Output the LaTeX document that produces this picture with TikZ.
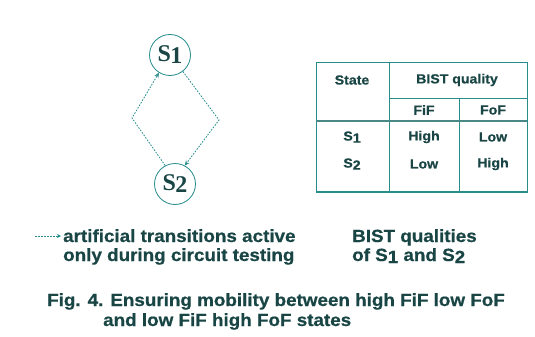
\documentclass[tikz,border=0pt]{standalone}
\usepackage{fontspec}
\setmainfont[FakeStretch=1.07,FakeBold=0.6]{Liberation Sans}
\newfontfamily\serifbold{Liberation Serif}
\usetikzlibrary{arrows.meta}
\definecolor{txt}{rgb}{0.10,0.27,0.27}
\definecolor{ln}{rgb}{0.15,0.55,0.55}
\begin{document}
\begin{tikzpicture}[x=1pt,y=-1pt,
  state/.style={circle,draw=ln,line width=0.8pt,minimum size=41pt,inner sep=0pt,text=txt,font=\serifbold\bfseries\fontsize{24}{24}\selectfont},
  trans/.style={draw=ln,dash pattern=on 1.6pt off 1.4pt,line width=0.8pt,-{Stealth[length=5pt,width=4.5pt]}},
  lbl/.style={anchor=base west,inner sep=0pt,text=txt,font=\bfseries\fontsize{17.6}{17.6}\selectfont},
  cell/.style={inner sep=0pt,text=txt,font=\bfseries\fontsize{13.2}{13.2}\selectfont},
  grid/.style={draw=ln,line width=0.8pt}]
\useasboundingbox[fill=white] (0,0) rectangle (535,337);
% states
\node[state] (s1) at (170,55) {S\kern-0.5pt\raisebox{-2pt}{1}};
\node[state] (s2) at (175,184) {S\kern-0.5pt\raisebox{-2pt}{2}};
\coordinate (cl) at (132,118);
\coordinate (cr) at (219,120);
\draw[trans] (s2.118) -- (cl) -- (s1.238);
\draw[trans] (s1.-52) -- (cr) -- (s2.62);
% table
\coordinate (tl) at (316,62);
\coordinate (br) at (527,192);
\draw[grid] (tl) rectangle (br);
\draw[grid] (389,62) -- (389,192);
\draw[grid] (389,98) -- (527,98);
\draw[grid] (459,98) -- (459,192);
\draw[draw=ln!60!gray,line width=2.4pt] (316,121) -- (527,121);
\draw[grid,line width=1.6pt] (316,192) -- (527,192);
\node[cell] (h1) at (352,80) {State};
\node[cell] (h2) at (457,80) {BIST quality};
\node[cell] (h3) at (424,110) {FiF};
\node[cell] (h4) at (493,110) {FoF};
\node[cell] (r1) at (352,137) {S\raisebox{-2pt}{1}};
\node[cell] (r2) at (352,164) {S\raisebox{-2pt}{2}};
\node[cell] (a1) at (424,137) {High};
\node[cell] (a2) at (493,137) {Low};
\node[cell] (b1) at (424,164) {Low};
\node[cell] (b2) at (493,164) {High};
% legend
\coordinate (la) at (35,236);
\coordinate (lb) at (61,236);
\draw[draw=ln,dash pattern=on 1.6pt off 1.4pt,line width=0.8pt,-{Stealth[length=4pt,width=4pt]}] (la) -- (lb);
\node[lbl] (t1) at (63,242) {artificial transitions active};
\node[lbl] (t2) at (63,261) {only during circuit testing};
\node[lbl] (t3) at (352,242) {BIST qualities};
\node[lbl] (t4) at (352,261) {of S\raisebox{-2pt}{1} and S\raisebox{-2pt}{2}};
\node[lbl] (c1) at (47,306) {Fig. 4. Ensuring mobility between high FiF low FoF};
\node[lbl] (c2) at (103,326) {and low FiF high FoF states};
\end{tikzpicture}
\end{document}
